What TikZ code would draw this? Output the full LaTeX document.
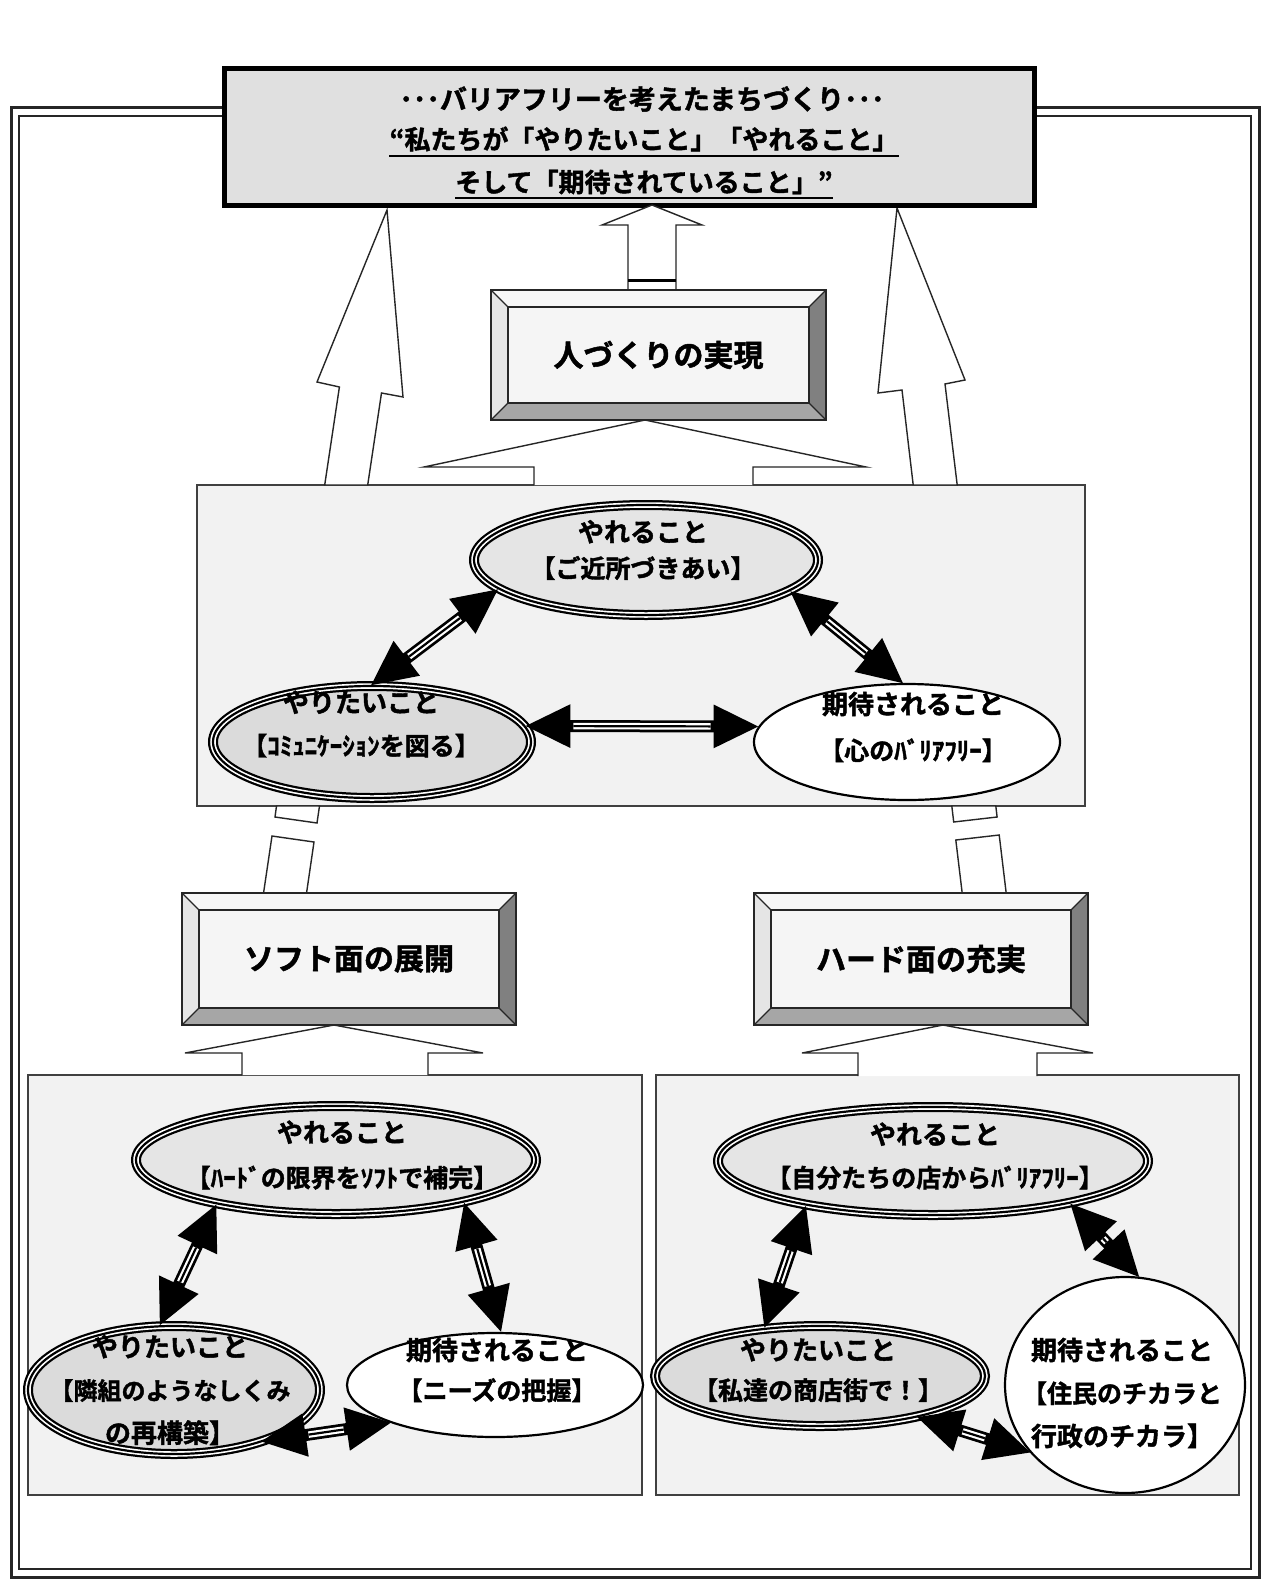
\documentclass[tikz,border=0pt]{standalone}
\usepackage{fontspec}
\setmainfont{Noto Sans CJK JP}[BoldFont={Noto Sans CJK JP Bold},BoldFeatures={FakeBold=1.6}]
\usetikzlibrary{shapes.geometric,arrows.meta,calc}
\newcommand\biarrow[2]{%
  \draw[line width=12pt,{Triangle[length=46pt,width=40pt]}-{Triangle[length=46pt,width=40pt]}] #1 -- #2;
  \draw[line width=6.5pt,white,shorten <=49pt,shorten >=49pt] #1 -- #2;
  \draw[line width=2.2pt,black,shorten <=49pt,shorten >=49pt] #1 -- #2;
}
\newcommand\bevelbox[5]{% name, center, width, height, label
  \node[bvbox,minimum width=#3,minimum height=#4] (#1) at #2 {};
  \coordinate (#1a) at ($(#1.north west)+(17,17)$);
  \coordinate (#1b) at ($(#1.north east)+(-17,17)$);
  \coordinate (#1c) at ($(#1.south east)+(-17,-17)$);
  \coordinate (#1d) at ($(#1.south west)+(17,-17)$);
  \fill[black!3] (#1.north west) -- (#1.north east) -- (#1b) -- (#1a) -- cycle;
  \fill[black!10] (#1.north west) -- (#1a) -- (#1d) -- (#1.south west) -- cycle;
  \fill[black!50] (#1.north east) -- (#1.south east) -- (#1c) -- (#1b) -- cycle;
  \fill[black!35] (#1.south west) -- (#1d) -- (#1c) -- (#1.south east) -- cycle;
  \fill[black!4] (#1a) -- (#1b) -- (#1c) -- (#1d) -- cycle;
  \draw[black!85,line width=1.3pt] (#1.north west) rectangle (#1.south east);
  \draw[black!85,line width=1.3pt] (#1a) -- (#1b) -- (#1c) -- (#1d) -- cycle;
  \draw[black!85,line width=1.3pt] (#1.north west) -- (#1a) (#1.north east) -- (#1b)
     (#1.south east) -- (#1c) (#1.south west) -- (#1d);
  \node[lbl,font=\bfseries\fontsize{30}{34}\selectfont] (#1t) at #2 {#5};
}
\begin{document}
\begin{tikzpicture}[x=1pt,y=-1pt,
  panel/.style={draw=black!75,line width=1.3pt,fill=black!5},
  wa/.style={draw=black!85,line width=1.4pt,fill=white,line join=miter},
  bvbox/.style={rectangle,draw=black!85,line width=1.3pt,inner sep=0pt,outer sep=0pt,fill=white},
  tri/.style={ellipse,inner sep=0pt,outer sep=0pt,draw=black,line width=10pt,
     postaction={draw=white,line width=5.5pt},postaction={draw=black,line width=2.2pt}},
  sgl/.style={ellipse,inner sep=0pt,outer sep=0pt,draw=black,line width=2.2pt,fill=white},
  lbl/.style={align=center,inner sep=0pt,font=\bfseries},
  hd/.style={font=\bfseries\fontsize{26}{#1}\selectfont}
]
\useasboundingbox (0,0) rectangle (1266,1584);
% outer frame
\draw[black!85,line width=3pt] (11,108) rectangle (1259,1577);
\draw[black!85,line width=2.5pt] (19,116) rectangle (1251,1569);
% panels
\node[panel,minimum width=888pt,minimum height=321pt,inner sep=0pt] (mid) at (641,645.5) {};
\node[panel,minimum width=614pt,minimum height=420pt,inner sep=0pt] (lp) at (335,1285) {};
\node[panel,minimum width=583pt,minimum height=420pt,inner sep=0pt] (rp) at (947.5,1285) {};
% big side arrows (upper parts)
\draw[wa] (324.7,485) -- (339.4,387) -- (317,382) -- (387,210) -- (403,397) -- (381.5,393) -- (367.7,485) -- cycle;
\draw[wa] (913.2,485) -- (902,390) -- (878,393) -- (897,208) -- (965,380) -- (945,384) -- (957.2,485) -- cycle;
% big side arrows (broken lower parts)
\draw[wa] (276.5,806) -- (319.5,806) -- (317,823) -- (275,817) -- cycle;
\draw[wa] (272,836) -- (314,842) -- (306.4,894) -- (263.4,894) -- cycle;
\draw[wa] (951.8,806) -- (995.8,806) -- (997.1,817) -- (953.7,822) -- cycle;
\draw[wa] (955.8,840) -- (999.2,835) -- (1006.3,894) -- (962.3,894) -- cycle;
% title box
\node[draw=black,line width=5pt,fill=black!12,minimum width=810pt,minimum height=136pt,inner sep=0pt] (top) at (629,137) {};
\node[lbl,font=\bfseries\fontsize{27}{30}\selectfont] (tt1) at (642,99) {･･･バリアフリーを考えたまちづくり･･･};
\node[lbl,hd=30] (tt2) at (644,139) {“私たちが「やりたいこと」「やれること」};
\node[lbl,hd=30] (tt3) at (644,182) {そして「期待されていること」”};
\draw[line width=2pt] ([yshift=-4pt]tt2.south west) -- ([yshift=-4pt]tt2.south east);
\draw[line width=2pt] ([yshift=-4pt]tt3.south west) -- ([yshift=-4pt]tt3.south east);
% arrow from hito to title
\draw[wa] (628,290) -- (628,225) -- (602,225) -- (652,205) -- (702,225) -- (676,225) -- (676,290);
\draw[line width=3pt] (628,280) -- (676,280);
% bevel boxes
\bevelbox{hito}{(658.5,355)}{335pt}{130pt}{人づくりの実現}
\bevelbox{soft}{(349,959)}{334pt}{132pt}{ソフト面の展開}
\bevelbox{hard}{(921,959)}{334pt}{132pt}{ハード面の充実}
% wide arrows
\draw[wa] (534,485) -- (534,467) -- (424,467) -- (645,420) -- (866,467) -- (753,467) -- (753,485);
\draw[wa] (242,1075) -- (242,1053) -- (185,1053) -- (334,1025) -- (483,1053) -- (428,1053) -- (428,1075);
\draw[wa] (858,1076) -- (858,1053) -- (802,1053) -- (943,1025) -- (1093,1053) -- (1037,1053) -- (1037,1076);
% middle ellipses
\node[tri,fill=black!10,minimum width=344pt,minimum height=110pt] (mT) at (646,560) {};
\node[tri,fill=black!14,minimum width=318pt,minimum height=112pt] (mL) at (372,742) {};
\node[sgl,minimum width=306pt,minimum height=116pt] (mR) at (907,742) {};
\node[lbl,hd=36] (mTt) at (643,550) {やれること\\\fontsize{25}{36}\selectfont【ご近所づきあい】};
\node[lbl,hd=43] (mLt) at (361,724) {やりたいこと\\\fontsize{25}{36}\selectfont【ｺﾐｭﾆｹｰｼｮﾝを図る】};
\node[lbl,hd=46] (mRt) at (913,727) {期待されること\\\fontsize{25}{36}\selectfont【心のﾊﾞﾘｱﾌﾘｰ】};
\biarrow{(mL.92)}{(mT.191)}
\biarrow{(mT.348)}{(mR.93)}
\biarrow{(mL.6)}{(mR.174)}
% lower-left ellipses
\node[tri,fill=black!10,minimum width=400pt,minimum height=108pt] (lT) at (336,1160) {};
\node[tri,fill=black!14,minimum width=292pt,minimum height=128pt] (lL) at (174,1390) {};
\node[sgl,minimum width=296pt,minimum height=104pt] (lR) at (495,1385) {};
\node[lbl,hd=45] (lTt) at (342,1155) {やれること\\\fontsize{25}{36}\selectfont【ﾊｰﾄﾞの限界をｿﾌﾄで補完】};
\node[lbl,hd=43] (lLt) at (170,1390) {やりたいこと\\\fontsize{24}{43}\selectfont【隣組のようなしくみ\\の再構築】};
\node[lbl,hd=40] (lRt) at (497,1370) {期待されること\\\fontsize{25}{36}\selectfont【ニーズの把握】};
\biarrow{(lT.200)}{(lL.103)}
\biarrow{(lT.342)}{(lR.83)}
\biarrow{(lL.329)}{(lR.200)}
% lower-right ellipses
\node[tri,fill=black!10,minimum width=430pt,minimum height=108pt] (rT) at (933,1161) {};
\node[tri,fill=black!14,minimum width=330pt,minimum height=100pt] (rL) at (820,1376) {};
\node[sgl,minimum width=240pt,minimum height=216pt] (rR) at (1125,1385) {};
\node[lbl,hd=43] (rTt) at (935,1156) {やれること\\\fontsize{25}{36}\selectfont【自分たちの店からﾊﾞﾘｱﾌﾘｰ】};
\node[lbl,hd=40] (rLt) at (818,1370) {やりたいこと\\\fontsize{25}{36}\selectfont【私達の商店街で！】};
\node[lbl,hd=43] (rRt) at (1122,1393) {期待されること\\\fontsize{25}{43}\selectfont【住民のチカラと\\行政のチカラ】};
\biarrow{(rT.199)}{(rL.140)}
\biarrow{(rT.343)}{(rR.82)}
\biarrow{(rL.337)}{(rR.216)}
\end{tikzpicture}
\end{document}
